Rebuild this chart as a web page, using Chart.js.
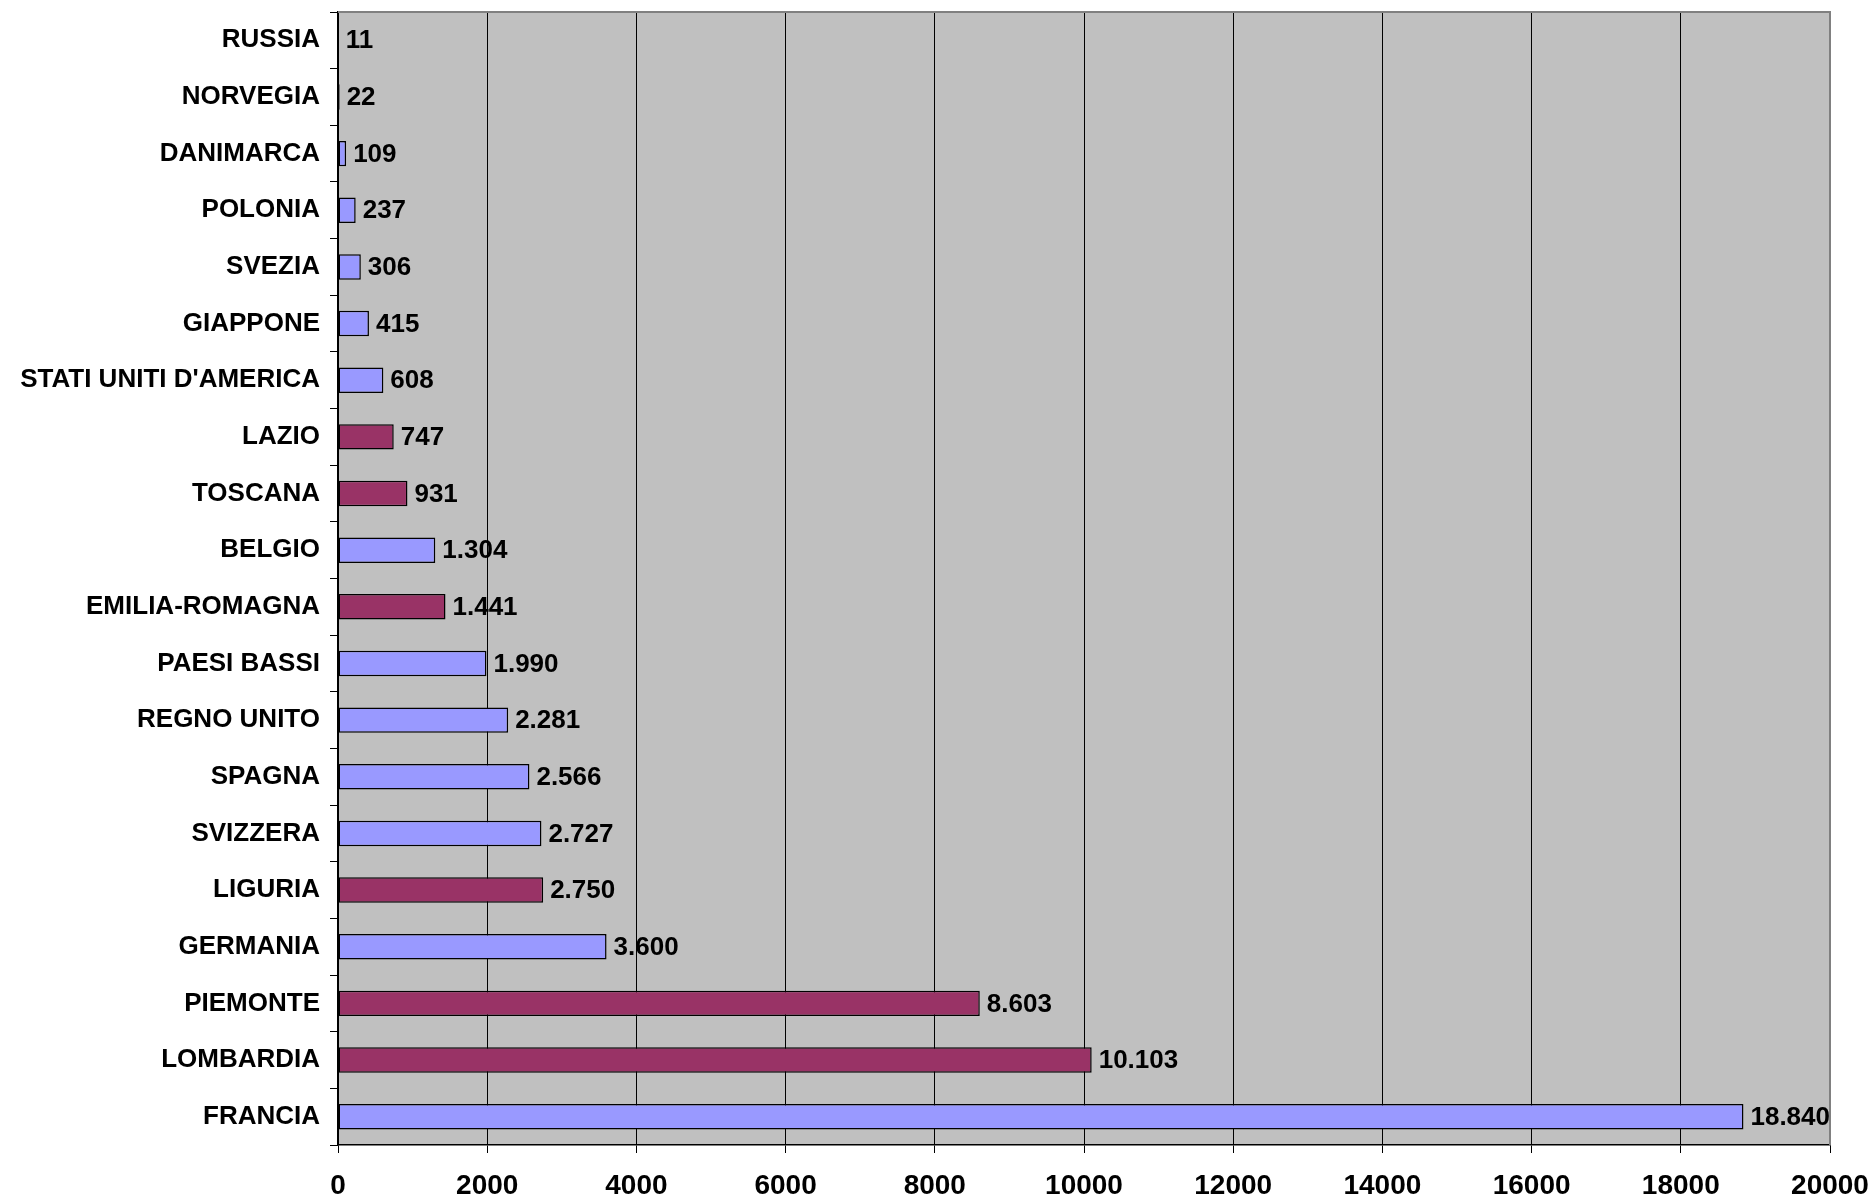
<!DOCTYPE html>
<html>
<head>
<meta charset="utf-8">
<script src="https://cdn.jsdelivr.net/npm/chart.js@4/dist/chart.umd.min.js"></script>
<style>
  html, body { margin: 0; padding: 0; background: #fff; }
  canvas { display: block; }
</style>
</head>
<body>
<canvas id="chart" width="1874" height="1197"></canvas>
<script>
// categories, top to bottom
const categories = [
    "RUSSIA", "NORVEGIA", "DANIMARCA", "POLONIA", "SVEZIA", "GIAPPONE",
    "STATI UNITI D'AMERICA", "LAZIO", "TOSCANA", "BELGIO", "EMILIA-ROMAGNA",
    "PAESI BASSI", "REGNO UNITO", "SPAGNA", "SVIZZERA", "LIGURIA",
    "GERMANIA", "PIEMONTE", "LOMBARDIA", "FRANCIA"
];
const values = [
    11, 22, 109, 237, 306, 415,
    608, 747, 931, 1304, 1441,
    1990, 2281, 2566, 2727, 2750,
    3600, 8603, 10103, 18840
];
// italian regions get the darker colour
const regions = ["LAZIO", "TOSCANA", "EMILIA-ROMAGNA", "LIGURIA", "PIEMONTE", "LOMBARDIA"];
const xTicks = [0, 2000, 4000, 6000, 8000, 10000, 12000, 14000, 16000, 18000, 20000];

const FONT = "'Liberation Sans', Arial, sans-serif";

function fmt(v) {
    return String(v).replace(/\B(?=(\d{3})+(?!\d))/g, ".");
}

const plotBg = {
    id: "plotBg",
    beforeDraw(chart) {
        const a = chart.chartArea;
        const ctx = chart.ctx;
        ctx.save();
        ctx.fillStyle = "#C0C0C0";
        ctx.fillRect(a.left, a.top, a.right - a.left, a.bottom - a.top);
        ctx.restore();
    },
    afterDraw(chart) {
        const a = chart.chartArea;
        const ctx = chart.ctx;
        ctx.save();
        ctx.strokeStyle = "#808080";
        ctx.lineWidth = 2;
        ctx.beginPath();
        ctx.moveTo(a.left, a.top);
        ctx.lineTo(a.right, a.top);
        ctx.lineTo(a.right, a.bottom);
        ctx.stroke();
        ctx.restore();
    }
};

const valueLabels = {
    id: "valueLabels",
    afterDatasetsDraw(chart) {
        const ctx = chart.ctx;
        const meta = chart.getDatasetMeta(0);
        ctx.save();
        ctx.font = "bold 26px " + FONT;
        ctx.fillStyle = "#000";
        ctx.textAlign = "left";
        ctx.textBaseline = "middle";
        meta.data.forEach((bar, i) => {
            ctx.fillText(fmt(values[i]), bar.x + 7, bar.y + 1);
        });
        ctx.restore();
    }
};

new Chart(document.getElementById("chart").getContext("2d"), {
    type: "bar",
    data: {
        labels: categories,
        datasets: [{
            data: values,
            backgroundColor: categories.map(c => regions.includes(c) ? "#993366" : "#9999FF"),
            borderColor: "#000",
            borderWidth: 1.5,
            borderSkipped: false,
            categoryPercentage: 1,
            barPercentage: 0.45
        }]
    },
    options: {
        indexAxis: "y",
        responsive: false,
        animation: false,
        devicePixelRatio: 1,
        layout: { padding: { top: 12, right: 44, left: 0, bottom: 0 } },
        plugins: {
            legend: { display: false },
            tooltip: { enabled: false }
        },
        scales: {
            x: {
                min: 0,
                max: 20000,
                afterBuildTicks(scale) {
                    scale.ticks = xTicks.map(v => ({ value: v }));
                },
                afterFit(scale) {
                    scale.height = 52;
                    scale.paddingLeft = 0;
                    scale.paddingRight = 0;
                },
                grid: { color: "#000", lineWidth: 1, tickLength: 8, tickColor: "#000" },
                border: { color: "#000", width: 1.5 },
                ticks: {
                    color: "#000",
                    padding: 16,
                    maxRotation: 0,
                    callback: v => String(v),
                    font: { family: FONT, size: 28, weight: "bold" }
                }
            },
            y: {
                afterFit(scale) {
                    scale.width = 338;
                    scale.paddingTop = 0;
                    scale.paddingBottom = 0;
                },
                grid: { drawOnChartArea: false, tickLength: 8, color: "#000", offset: true },
                border: { color: "#000", width: 1.5 },
                ticks: {
                    color: "#000",
                    padding: 10,
                    autoSkip: false,
                    font: { family: FONT, size: 26, weight: "bold" }
                }
            }
        }
    },
    plugins: [plotBg, valueLabels]
});
</script>
</body>
</html>
